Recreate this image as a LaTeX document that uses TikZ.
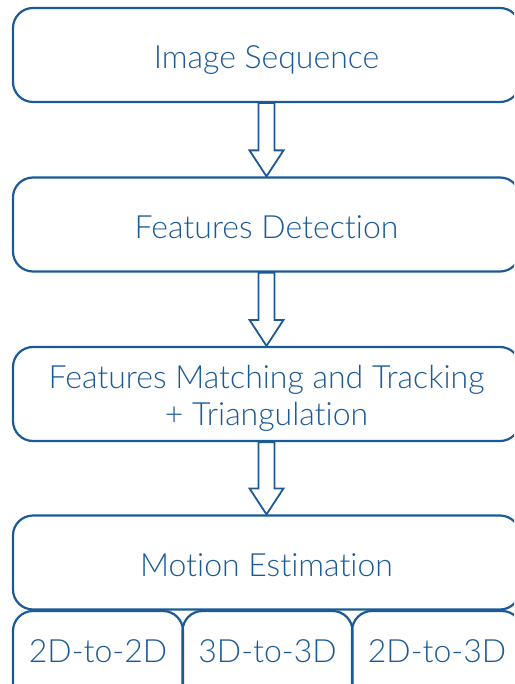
\documentclass[tikz,border=0pt]{standalone}
\usepackage{fontspec}
\setmainfont{Lato Light}[Ligatures=CommonOff]
\usetikzlibrary{calc}
\definecolor{flowblue}{HTML}{1B5A96}
\tikzset{
  stage/.style={draw=flowblue, line width=2.2pt, rounded corners=20pt,
    minimum width=507pt, minimum height=94pt, inner sep=0pt,
    text=flowblue, align=center, font=\fontsize{32}{37}\selectfont,
    text height=32pt, text depth=4pt},
  twoline/.style={text height=66pt, text depth=4pt},
  method/.style={stage, minimum width=170pt, text height=20pt, text depth=12pt},
  flowarrow/.style={draw=flowblue, line width=1.8pt, fill=white, line join=miter}
}
\newcommand{\blockarrow}[2]{%
  \draw[flowarrow] ($(#1.south)+(-8pt,0)$) -- ($(#1.south)+(8pt,0)$)
    -- ($(#2.north)+(8pt,26pt)$) -- ($(#2.north)+(17pt,26pt)$)
    -- (#2.north) -- ($(#2.north)+(-17pt,26pt)$)
    -- ($(#2.north)+(-8pt,26pt)$) -- cycle;}
\begin{document}
\begin{tikzpicture}[x=1pt,y=1pt]
  \useasboundingbox (0,0) rectangle (514,-684);
  \clip (0,0) rectangle (514,-684);
  \node[stage] (seq)    at (266.5,-55)  {Image Sequence};
  \node[stage] (detect) at (266.5,-224.5) {Features Detection};
  \node[stage, twoline] (match) at (266.5,-394) {Features Matching and Tracking\\+ Triangulation};
  \node[stage] (motion) at (266.5,-562.5) {Motion Estimation};
  \node[method] (m22) at (98,-658)  {2D-to-2D};
  \node[method] (m33) at (267.5,-658) {3D-to-3D};
  \node[method] (m23) at (437,-658) {2D-to-3D};
  \blockarrow{seq}{detect}
  \blockarrow{detect}{match}
  \blockarrow{match}{motion}
\end{tikzpicture}
\end{document}
